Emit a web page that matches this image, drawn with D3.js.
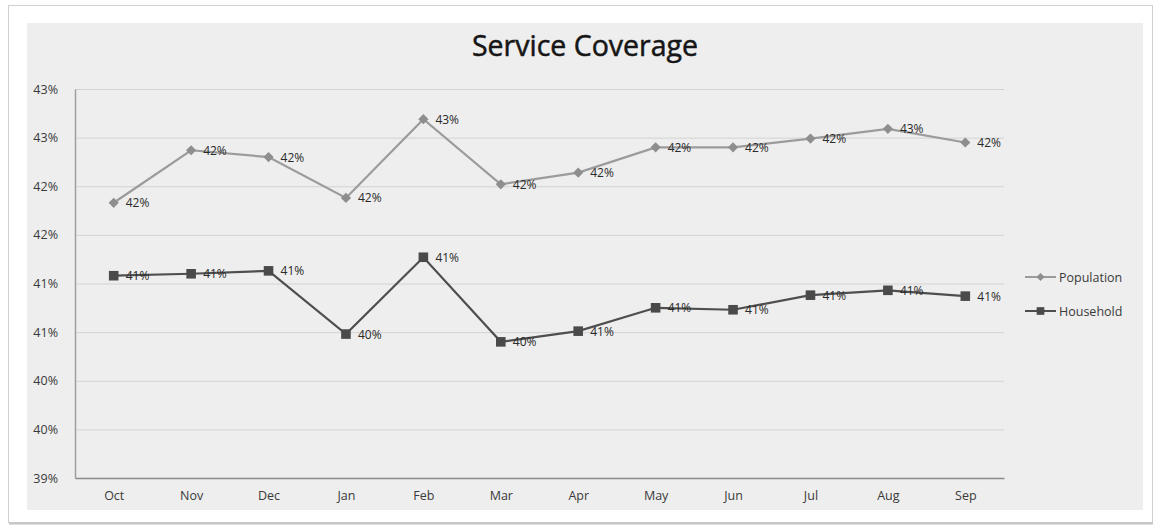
<!DOCTYPE html>
<html>
<head>
<meta charset="utf-8">
<script src="https://cdn.jsdelivr.net/npm/d3@7"></script>
<style>
  html, body { margin: 0; padding: 0; background: #ffffff; }
  svg { display: block; }
</style>
</head>
<body>
<svg id="chart" width="1158" height="527"></svg>
<script>
// Months of the reporting year
const months = ["Oct", "Nov", "Dec", "Jan", "Feb", "Mar", "Apr", "May", "Jun", "Jul", "Aug", "Sep"];

// Coverage, in percent
const population = [41.83, 42.37, 42.30, 41.88, 42.69, 42.02, 42.14, 42.40, 42.40, 42.49, 42.59, 42.45];
const household  = [41.08, 41.10, 41.13, 40.48, 41.27, 40.40, 40.51, 40.75, 40.73, 40.88, 40.93, 40.87];

// Value axis ticks and their printed labels (whole-percent format)
const yTicks = [39, 39.5, 40, 40.5, 41, 41.5, 42, 42.5, 43];
const yTickLabels = ["39%", "40%", "40%", "41%", "41%", "42%", "42%", "43%", "43%"];

const seriesNames = ["Population", "Household"];

const svg = d3.select("#chart");
const font = "'Open Sans', 'Liberation Sans', sans-serif";

// Outer card with a soft border
svg.append("rect")
  .attr("x", 8.5).attr("y", 5.5).attr("width", 1144).attr("height", 517)
  .attr("fill", "#ffffff").attr("stroke", "#d0d0d0").attr("stroke-width", 1);
svg.append("line")
  .attr("x1", 9).attr("x2", 1153).attr("y1", 523.5).attr("y2", 523.5)
  .attr("stroke", "#c4c4c4").attr("stroke-width", 2);

// Chart area background
svg.append("rect")
  .attr("x", 27).attr("y", 23).attr("width", 1116).attr("height", 487)
  .attr("fill", "#eeeeee");

// Title
svg.append("text")
  .attr("x", 585).attr("y", 56)
  .attr("text-anchor", "middle")
  .attr("font-family", font)
  .attr("font-size", 28.5)
  .attr("fill", "#161616")
  .attr("stroke", "#161616")
  .attr("stroke-width", 0.5)
  .text("Service Coverage");

const plot = { left: 75, right: 1004, top: 89, bottom: 478 };

const x = d3.scalePoint()
  .domain(months)
  .range([plot.left, plot.right])
  .padding(0.5);

const y = d3.scaleLinear()
  .domain([39, 43])
  .range([plot.bottom, plot.top]);

// Horizontal gridlines
const grid = svg.append("g")
  .attr("transform", `translate(${plot.left},0)`)
  .call(d3.axisLeft(y)
    .tickValues(yTicks.filter(t => t > 39))
    .tickSize(-(plot.right - plot.left))
    .tickFormat(""));
grid.select(".domain").remove();
grid.selectAll(".tick line").attr("stroke", "#d2d2d2").attr("stroke-width", 1);

// Value axis
const yAxis = svg.append("g")
  .attr("transform", `translate(${plot.left},0)`)
  .call(d3.axisLeft(y)
    .tickValues(yTicks)
    .tickSize(0)
    .tickPadding(17)
    .tickFormat((d, i) => yTickLabels[i]));
yAxis.select(".domain").attr("stroke", "#a0a0a0").attr("stroke-width", 1.5);
yAxis.selectAll("text")
  .attr("font-family", font).attr("font-size", 12.5).attr("fill", "#3a3a3a");

// Category axis
const xAxis = svg.append("g")
  .attr("transform", `translate(0,${plot.bottom})`)
  .call(d3.axisBottom(x).tickSize(0).tickPadding(13));
xAxis.select(".domain").attr("stroke", "#8a8a8a").attr("stroke-width", 1.5);
xAxis.selectAll("text")
  .attr("font-family", font).attr("font-size", 12.5).attr("fill", "#3a3a3a");

// Series styling
const styles = {
  Population: { line: "#9b9b9b", marker: "#8e8e8e", symbol: "diamond" },
  Household:  { line: "#4e4e4e", marker: "#4a4a4a", symbol: "square" }
};

function marker(sel, kind, color, scale) {
  const s = scale || 1;
  if (kind === "diamond") {
    sel.append("path")
      .attr("d", d3.symbol(d3.symbolSquare, 52 * s * s)())
      .attr("transform", "rotate(45)")
      .attr("fill", color);
  } else {
    sel.append("path")
      .attr("d", d3.symbol(d3.symbolSquare, 92 * s * s)())
      .attr("fill", color);
  }
}

const lineGen = d3.line()
  .x((d, i) => x(months[i]))
  .y(d => y(d));

[population, household].forEach((values, si) => {
  const name = seriesNames[si];
  const st = styles[name];
  const g = svg.append("g");

  g.append("path")
    .datum(values)
    .attr("fill", "none")
    .attr("stroke", st.line)
    .attr("stroke-width", 2.2)
    .attr("d", lineGen);

  g.selectAll(".pt")
    .data(values)
    .join("g")
    .attr("transform", (d, i) => `translate(${x(months[i])},${y(d)})`)
    .each(function () { marker(d3.select(this), st.symbol, st.marker); });

  g.selectAll(".lbl")
    .data(values)
    .join("text")
    .attr("x", (d, i) => x(months[i]) + 12)
    .attr("y", d => y(d))
    .attr("dy", "0.38em")
    .attr("font-family", font)
    .attr("font-size", 12)
    .attr("fill", "#2a2a2a")
    .text(d => Math.round(d) + "%");
});

// Legend
const legend = svg.append("g").attr("transform", "translate(1025,0)");
seriesNames.forEach((name, i) => {
  const st = styles[name];
  const ly = 277 + i * 34;
  legend.append("line")
    .attr("x1", 0).attr("x2", 31).attr("y1", ly).attr("y2", ly)
    .attr("stroke", st.line).attr("stroke-width", 2);
  const m = legend.append("g").attr("transform", `translate(15.5,${ly})`);
  marker(m, st.symbol, st.marker, 0.8);
  legend.append("text")
    .attr("x", 34).attr("y", ly).attr("dy", "0.36em")
    .attr("font-family", font).attr("font-size", 12.5).attr("fill", "#3a3a3a")
    .text(name);
});
</script>
</body>
</html>
